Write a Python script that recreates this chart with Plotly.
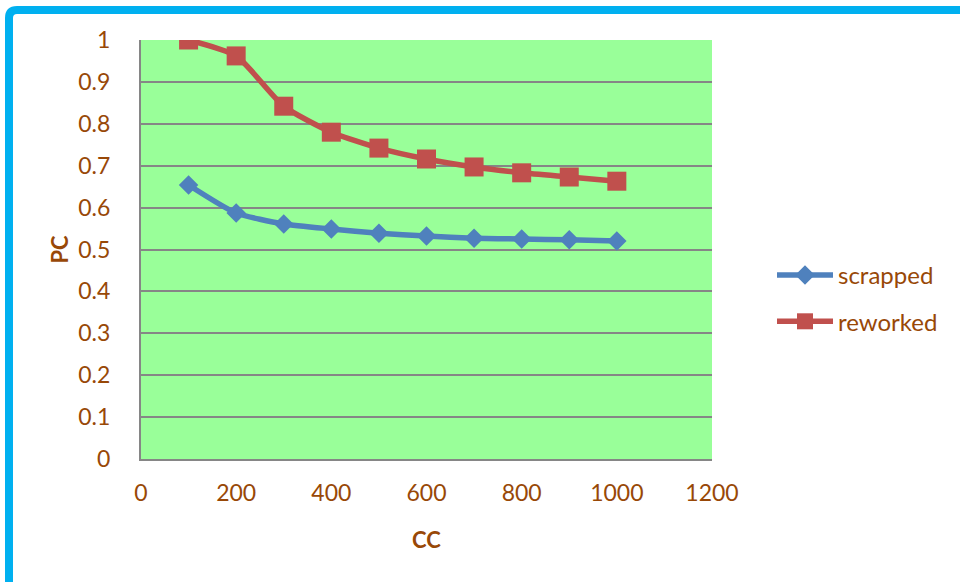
import plotly.graph_objects as go

cc = [100, 200, 300, 400, 500, 600, 700, 800, 900, 1000]
scrapped = [0.654, 0.587, 0.561, 0.549, 0.539, 0.532, 0.527, 0.525, 0.523, 0.520]
reworked = [1.0, 0.962, 0.842, 0.780, 0.742, 0.716, 0.697, 0.683, 0.673, 0.663]

W, H = 960, 582
L, R, T, B = 141, 248, 40, 123
pw, ph = W - L - R, H - T - B
brown = "#984807"
font = "Lato, Open Sans, sans-serif"

def px(x):
    return (x - L) / pw

def py(y):
    return (H - B - y) / ph

fig = go.Figure()
fig.add_trace(go.Scatter(x=cc, y=scrapped, name="scrapped", mode="lines+markers",
                         legendgroup="a",
                         line=dict(color="#4F81BD", width=5.5, shape="spline", smoothing=0.6),
                         marker=dict(symbol="diamond", size=15, color="#4F81BD")))
fig.add_trace(go.Scatter(x=cc, y=reworked, name="reworked", mode="lines+markers",
                         legendgroup="b",
                         line=dict(color="#C0504D", width=5.5, shape="spline", smoothing=0.6),
                         marker=dict(symbol="square", size=19, color="#C0504D")))

# outer blue frame with rounded top-left corner
x0, y0, x1, y1 = px(9), py(10), px(1010), py(620)
r = 8
cx, cy = px(9 + r), py(10 + r)
fig.add_shape(type="path", xref="paper", yref="paper",
              path=f"M {x0},{y1} L {x0},{cy} Q {x0},{y0} {cx},{y0} L {x1},{y0}",
              line=dict(color="#00B0F0", width=8), layer="below")

fig.update_layout(
    width=W, height=H,
    margin=dict(l=L, r=R, t=T, b=B, autoexpand=False),
    paper_bgcolor="white", plot_bgcolor="#99FF99",
    font=dict(family=font, size=23, color=brown),
    showlegend=True,
    legend=dict(x=px(772), y=py(253), xanchor="left", yanchor="top",
                font=dict(size=24, color=brown), traceorder="grouped",
                tracegroupgap=12, itemwidth=56, bgcolor="rgba(0,0,0,0)"),
    xaxis=dict(range=[0, 1200], dtick=200, showgrid=False, zeroline=False,
               showline=True, linecolor="#868686", linewidth=2,
               ticks="", ticklabelstandoff=12,
               title=dict(text="<b>CC</b>", standoff=28, font=dict(size=22, color=brown))),
    yaxis=dict(range=[0, 1.0], dtick=0.1, tickformat="~g", showgrid=True,
               gridcolor="#868686", gridwidth=2, zeroline=False,
               showline=True, linecolor="#868686", linewidth=2,
               ticks="", ticklabelstandoff=24,
               title=dict(text="<b>PC</b>", standoff=4, font=dict(size=22, color=brown))),
)

fig.write_html("out.html", config={"displayModeBar": False},
               post_script="document.body.style.margin='0';document.body.style.overflow='hidden';")
